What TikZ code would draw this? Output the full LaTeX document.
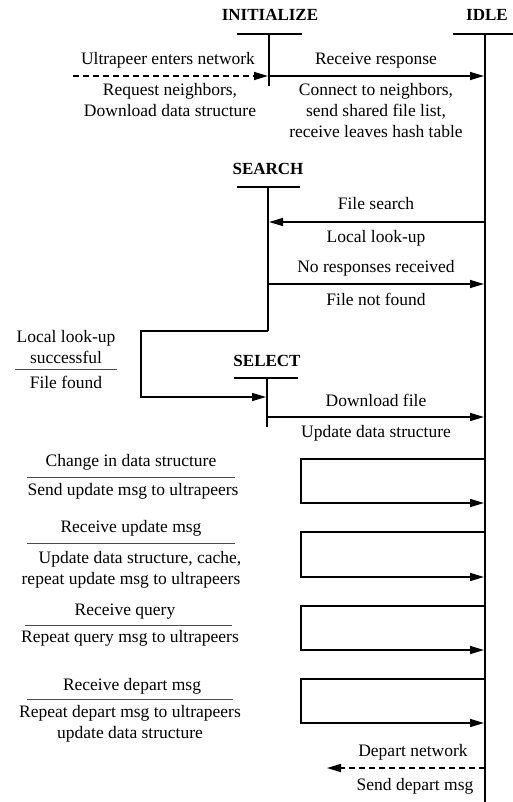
\documentclass[tikz,border=0pt]{standalone}
\usepackage{fontspec}
\setmainfont{Liberation Serif}
\usetikzlibrary{arrows.meta}
\newcommand{\mlines}[1]{\begin{tabular}[t]{@{}c@{}}#1\end{tabular}}
\begin{document}
\begin{tikzpicture}[x=1pt,y=-1pt,
  txt/.style={inner sep=0pt, anchor=base, font=\fontsize{17.5}{21}\selectfont},
  ttl/.style={inner sep=0pt, anchor=base, font=\fontsize{17}{20}\selectfont\bfseries},
  life/.style={line width=1.3pt},
  bar/.style={line width=2.3pt},
  msg/.style={line width=1.6pt, -{Triangle[length=14pt,width=8pt]}},
  dmsg/.style={msg, dash pattern=on 6pt off 4pt},
  rule/.style={line width=0.9pt, black!70}]
\useasboundingbox (0,0) rectangle (513,802);

% state titles
\node[ttl] (tIni) at (270,21) {INITIALIZE};
\node[ttl] (tIdle) at (487,21) {IDLE};
\node[ttl] (tSearch) at (268,175) {SEARCH};
\node[ttl] (tSelect) at (267,366) {SELECT};

% coordinates
\coordinate (iniBarL) at (237,34); \coordinate (iniBarR) at (302,34);
\coordinate (iniTop) at (269,34);  \coordinate (iniBot) at (269,86);
\coordinate (idleBarL) at (453,34); \coordinate (idleBarR) at (513,34);
\coordinate (idleTop) at (485,34); \coordinate (idleBot) at (485,802);
\coordinate (seaBarL) at (237,187); \coordinate (seaBarR) at (300,187);
\coordinate (seaTop) at (268,187); \coordinate (seaBot) at (268,331);
\coordinate (selBarL) at (234,378); \coordinate (selBarR) at (298,378);
\coordinate (selTop) at (267,378); \coordinate (selBot) at (267,427);

% bars and lifelines
\draw[bar] (iniBarL) -- (iniBarR);
\draw[bar] (idleBarL) -- (idleBarR);
\draw[bar] (seaBarL) -- (seaBarR);
\draw[bar] (selBarL) -- (selBarR);
\draw[life] (iniTop) -- (iniBot);
\draw[life] (idleTop) -- (idleBot);
\draw[life] (seaTop) -- (seaBot);
\draw[life] (selTop) -- (selBot);

% INITIALIZE
\coordinate (enterStart) at (73,76);
\coordinate (enterEnd) at (268,76);
\draw[dmsg] (enterStart) -- (enterEnd);
\node[txt] (lEnter) at (168,65) {Ultrapeer enters network};
\node[txt] (lReq) at (170,96) {\mlines{Request neighbors,\\Download data structure}};

\coordinate (recvA) at (269,76); \coordinate (recvB) at (484,76);
\draw[msg] (recvA) -- (recvB);
\node[txt] (lRecv) at (376,65) {Receive response};
\node[txt] (lConn) at (376,96) {\mlines{Connect to neighbors,\\send shared file list,\\receive leaves hash table}};

% SEARCH
\coordinate (fsA) at (485,222); \coordinate (fsB) at (269,222);
\draw[msg] (fsA) -- (fsB);
\node[txt] (lFs) at (376,210) {File search};
\node[txt] (lLl) at (376,242) {Local look-up};

\coordinate (nrA) at (268,284); \coordinate (nrB) at (484,284);
\draw[msg] (nrA) -- (nrB);
\node[txt] (lNr) at (376,272) {No responses received};
\node[txt] (lFnf) at (376,305) {File not found};

% loop to SELECT
\coordinate (lpA) at (141,331); \coordinate (lpB) at (141,397); \coordinate (lpC) at (266,397);
\draw[msg] (seaBot) -- (lpA) -- (lpB) -- (lpC);
\node[txt] (lSucc) at (66,342) {\mlines{Local look-up\\successful}};
\coordinate (r1a) at (15,369); \coordinate (r1b) at (117,369);
\draw[rule] (r1a) -- (r1b);
\node[txt] (lFound) at (66,388) {File found};

% SELECT
\coordinate (dlA) at (267,417); \coordinate (dlB) at (484,417);
\draw[msg] (dlA) -- (dlB);
\node[txt] (lDl) at (376,406) {Download file};
\node[txt] (lUpd) at (376,437) {Update data structure};

% IDLE self loops
\foreach \n/\t/\b in {1/459/503, 2/532/577, 3/606/650, 4/679/723}{
  \coordinate (s\n a) at (485,\t);
  \coordinate (s\n b) at (301,\t);
  \coordinate (s\n c) at (301,\b);
  \coordinate (s\n d) at (484,\b);
  \draw[msg] (s\n a) -- (s\n b) -- (s\n c) -- (s\n d);
}

\node[txt] (lChg) at (131,466) {Change in data structure};
\coordinate (r2a) at (27,477); \coordinate (r2b) at (235,477);
\draw[rule] (r2a) -- (r2b);
\node[txt] (lSend) at (133,495) {Send update msg to ultrapeers};

\node[txt] (lRecUpd) at (131,532) {Receive update msg};
\coordinate (r3a) at (27,543); \coordinate (r3b) at (235,543);
\draw[rule] (r3a) -- (r3b);
\node[txt] (lCache) at (131,563) {\mlines{\hspace*{18pt}Update data structure, cache,\\repeat update msg to ultrapeers}};

\node[txt] (lRecQ) at (125,615) {Receive query};
\coordinate (r4a) at (25,625); \coordinate (r4b) at (232,625);
\draw[rule] (r4a) -- (r4b);
\node[txt] (lRepQ) at (130,642) {Repeat query msg to ultrapeers};

\node[txt] (lRecDep) at (132,690) {Receive depart msg};
\coordinate (r5a) at (27,699); \coordinate (r5b) at (233,699);
\draw[rule] (r5a) -- (r5b);
\node[txt] (lRepDep) at (130,717) {\mlines{Repeat depart msg to ultrapeers\\update data structure}};

% depart
\coordinate (depA) at (485,768); \coordinate (depB) at (327,768);
\draw[dmsg] (depA) -- (depB);
\node[txt] (lDepNet) at (413,756) {Depart network};
\node[txt] (lSendDep) at (415,790) {Send depart msg};
\end{tikzpicture}
\end{document}
